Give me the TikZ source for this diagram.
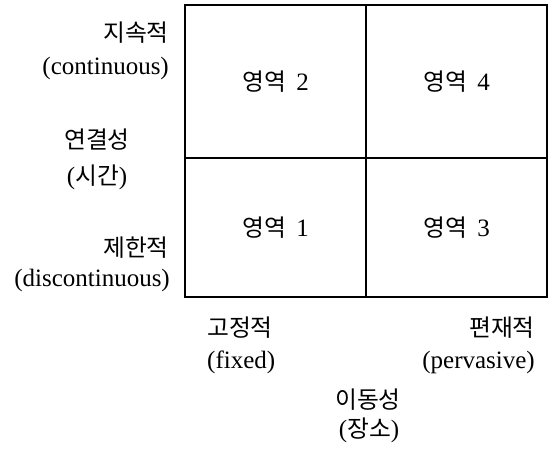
\documentclass[tikz,border=0pt]{standalone}
\usepackage{fontspec}
\setmainfont{Liberation Serif}
\newfontfamily\kr{Noto Sans CJK KR}[Scale=0.95]
\begin{document}
\begin{tikzpicture}[x=1pt,y=-1pt,
  cell/.style={draw=black,line width=1.6pt,minimum width=181pt,inner sep=0pt,font=\fontsize{25}{28}\selectfont},
  lbl/.style={inner sep=0pt,font=\fontsize{25}{28}\selectfont}]
\useasboundingbox (0,0) rectangle (549,448);
\node[cell,minimum height=153pt] (c2) at (275.5,81.5) {{\kr 영역}\ \,2};
\node[cell,minimum height=153pt] (c4) at (456.5,81.5) {{\kr 영역}\ \,4};
\node[cell,minimum height=139pt] (c1) at (275.5,227.5) {{\kr 영역}\ \,1};
\node[cell,minimum height=139pt] (c3) at (456.5,227.5) {{\kr 영역}\ \,3};
\node[lbl,anchor=east] (t1) at (169,33) {\kr 지속적};
\node[lbl,anchor=east] (t2) at (169,68) {(continuous)};
\node[lbl] (t3) at (97,140) {\kr 연결성};
\node[lbl] (t4) at (97,177) {({\kr 시간})};
\node[lbl,anchor=east] (t5) at (169,248) {\kr 제한적};
\node[lbl,anchor=east] (t6) at (170,280) {(discontinuous)};
\node[lbl,anchor=west] (b1) at (207,328) {\kr 고정적};
\node[lbl,anchor=west] (b2) at (207,362) {(fixed)};
\node[lbl,anchor=east] (b3) at (535,328) {\kr 편재적};
\node[lbl,anchor=east] (b4) at (535,362) {(pervasive)};
\node[lbl] (b5) at (368,400) {\kr 이동성};
\node[lbl] (b6) at (369,430) {({\kr 장소})};
\end{tikzpicture}
\end{document}
